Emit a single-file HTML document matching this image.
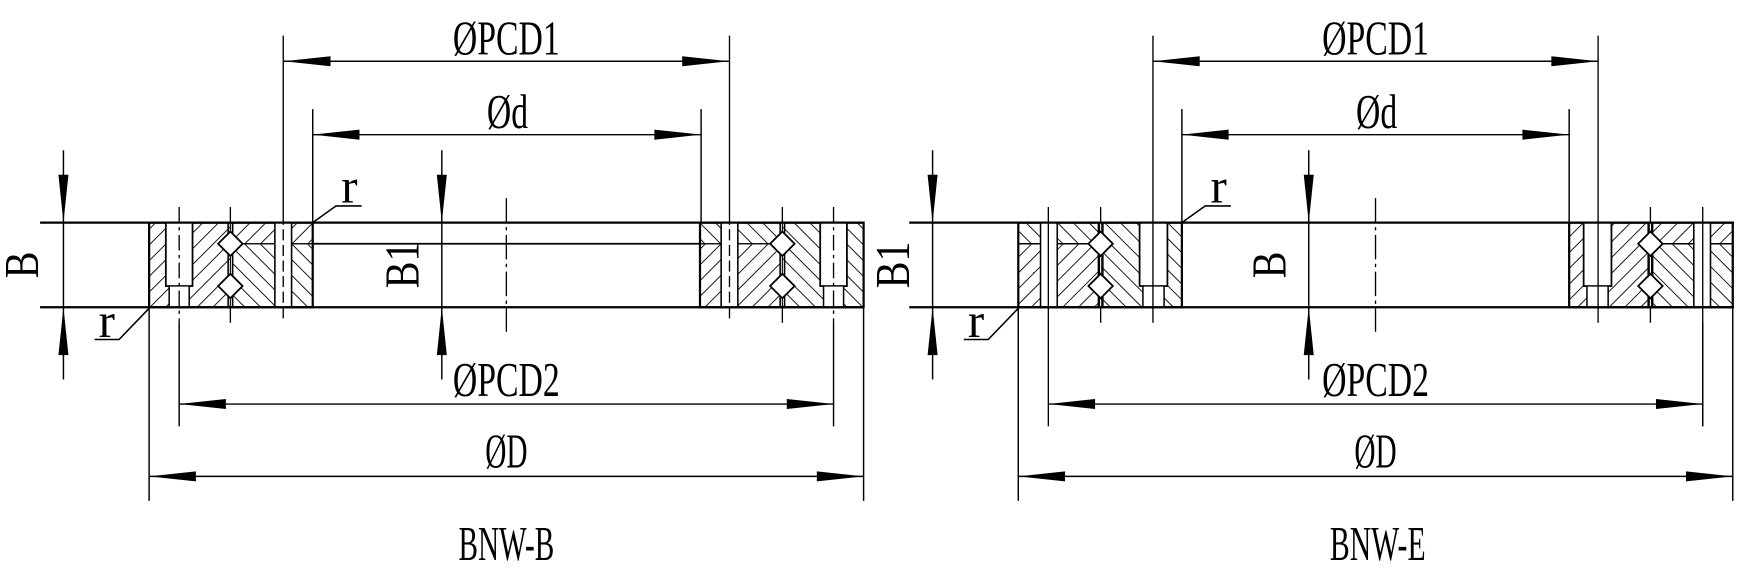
<!DOCTYPE html>
<html><head><meta charset="utf-8"><style>html,body{margin:0;padding:0;background:#fff}svg{display:block}</style></head>
<body>
<svg width="1745" height="571" viewBox="0 0 1568 513" preserveAspectRatio="none" xmlns="http://www.w3.org/2000/svg">
<defs>
<pattern id="hb" patternUnits="userSpaceOnUse" width="10" height="10" patternTransform="rotate(45)"><line x1="0" y1="0" x2="0" y2="10" stroke="#000" stroke-width="1.6"/></pattern>
<pattern id="hf" patternUnits="userSpaceOnUse" width="10" height="10" patternTransform="rotate(-45)"><line x1="0" y1="0" x2="0" y2="10" stroke="#000" stroke-width="1.6"/></pattern>
<g id="blockL">
  <rect x="134" y="200" width="73" height="76" fill="url(#hb)"/>
  <rect x="209" y="200" width="72" height="19" fill="url(#hb)"/>
  <rect x="209" y="219" width="72" height="57" fill="url(#hf)"/>
  <rect x="149" y="200" width="24" height="57" fill="#fff" stroke="#000" stroke-width="1.6"/>
  <rect x="152" y="257" width="18" height="19" fill="#fff"/>
  <line x1="152" y1="257" x2="152" y2="276" stroke="#000" stroke-width="1.3"/>
  <line x1="170" y1="257" x2="170" y2="276" stroke="#000" stroke-width="1.3"/>
  <line x1="161" y1="186" x2="161" y2="290" stroke="#000" stroke-width="1.2" stroke-dasharray="14,4,3,4"/>
  <rect x="247" y="200" width="15" height="76" fill="#fff" stroke="#000" stroke-width="1.4"/>
  <line x1="254.5" y1="32" x2="254.5" y2="290" stroke="#000" stroke-width="1.2" stroke-dasharray="170,4,10,4,10,4,10,4,10,4,10,4,10,4,100"/>
  <line x1="205" y1="200" x2="205" y2="276" stroke="#000" stroke-width="1.4"/>
  <line x1="209" y1="200" x2="209" y2="276" stroke="#000" stroke-width="1.4"/>
  <line x1="207" y1="186" x2="207" y2="200" stroke="#000" stroke-width="1.2"/>
  <line x1="207" y1="276" x2="207" y2="290" stroke="#000" stroke-width="1.2"/>
  <polygon points="207,208 218,219 207,230 196,219" fill="#fff" stroke="#000" stroke-width="1.6"/>
  <polygon points="207,246 218,257 207,268 196,257" fill="#fff" stroke="#000" stroke-width="1.6"/>
  <rect x="134" y="200" width="147" height="76" fill="none" stroke="#000" stroke-width="2"/>
</g>
<g id="blockR">
  <rect x="915" y="200" width="73" height="19" fill="url(#hf)"/>
  <rect x="915" y="219" width="73" height="57" fill="url(#hb)"/>
  <rect x="990" y="200" width="72" height="76" fill="url(#hf)"/>
  <line x1="915" y1="219" x2="988" y2="219" stroke="#000" stroke-width="1.4"/>
  <rect x="935" y="200" width="15" height="76" fill="#fff" stroke="#000" stroke-width="1.4"/>
  <line x1="942" y1="186" x2="942" y2="383" stroke="#000" stroke-width="1.2"/>
  <rect x="1024" y="200" width="25" height="57" fill="#fff" stroke="#000" stroke-width="1.6"/>
  <rect x="1027" y="257" width="19" height="19" fill="#fff"/>
  <line x1="1027" y1="257" x2="1027" y2="276" stroke="#000" stroke-width="1.3"/>
  <line x1="1046" y1="257" x2="1046" y2="276" stroke="#000" stroke-width="1.3"/>
  <line x1="1036" y1="32" x2="1036" y2="290" stroke="#000" stroke-width="1.2"/>
  <line x1="987" y1="200" x2="987" y2="276" stroke="#000" stroke-width="1.4"/>
  <line x1="991" y1="200" x2="991" y2="276" stroke="#000" stroke-width="1.4"/>
  <line x1="989" y1="186" x2="989" y2="200" stroke="#000" stroke-width="1.2"/>
  <line x1="989" y1="276" x2="989" y2="290" stroke="#000" stroke-width="1.2"/>
  <polygon points="989,208 1000,219 989,230 978,219" fill="#fff" stroke="#000" stroke-width="1.6"/>
  <polygon points="989,246 1000,257 989,268 978,257" fill="#fff" stroke="#000" stroke-width="1.6"/>
  <rect x="915" y="200" width="147" height="76" fill="none" stroke="#000" stroke-width="2"/>
</g>
</defs>

<g stroke="#000" fill="none">
<line x1="36" y1="200" x2="776" y2="200" stroke-width="2"/>
<line x1="36" y1="276" x2="776" y2="276" stroke-width="2"/>
<line x1="281" y1="219" x2="630" y2="219" stroke-width="1.6"/>
<use href="#blockL"/>
<use href="#blockL" transform="translate(910,0) scale(-1,1)"/>
<line x1="281" y1="98" x2="281" y2="200" stroke-width="1.3"/>
<line x1="630" y1="98" x2="630" y2="200" stroke-width="1.3"/>
<line x1="255" y1="55" x2="655" y2="55" stroke-width="1.3"/>
<line x1="281" y1="121" x2="630" y2="121" stroke-width="1.3"/>
<line x1="161" y1="290" x2="161" y2="383" stroke-width="1.3"/>
<line x1="749" y1="290" x2="749" y2="383" stroke-width="1.3"/>
<line x1="161" y1="363" x2="749" y2="363" stroke-width="1.3"/>
<line x1="134" y1="276" x2="134" y2="450" stroke-width="1.3"/>
<line x1="776" y1="276" x2="776" y2="450" stroke-width="1.3"/>
<line x1="134" y1="428" x2="776" y2="428" stroke-width="1.3"/>
<line x1="57" y1="135" x2="57" y2="341" stroke-width="1.3"/>
<line x1="397" y1="135" x2="397" y2="341" stroke-width="1.3"/>
<line x1="455" y1="178" x2="455" y2="298" stroke-width="1.2" stroke-dasharray="22,4,3,4"/>
<polyline points="85,305 107,305 134,277" stroke-width="1.4"/>
<polyline points="325,185 302,185 281,200" stroke-width="1.4"/>

<line x1="817" y1="200" x2="1558" y2="200" stroke-width="2"/>
<line x1="817" y1="276" x2="1558" y2="276" stroke-width="2"/>
<use href="#blockR"/>
<use href="#blockR" transform="translate(2472,0) scale(-1,1)"/>
<line x1="1062" y1="98" x2="1062" y2="200" stroke-width="1.3"/>
<line x1="1410" y1="98" x2="1410" y2="200" stroke-width="1.3"/>
<line x1="1036" y1="55" x2="1436" y2="55" stroke-width="1.3"/>
<line x1="1062" y1="121" x2="1410" y2="121" stroke-width="1.3"/>
<line x1="942" y1="363" x2="1530" y2="363" stroke-width="1.3"/>
<line x1="915" y1="276" x2="915" y2="450" stroke-width="1.3"/>
<line x1="1557" y1="276" x2="1557" y2="450" stroke-width="1.3"/>
<line x1="915" y1="428" x2="1557" y2="428" stroke-width="1.3"/>
<line x1="838" y1="135" x2="838" y2="341" stroke-width="1.3"/>
<line x1="1176" y1="135" x2="1176" y2="341" stroke-width="1.3"/>
<line x1="1236" y1="178" x2="1236" y2="298" stroke-width="1.2" stroke-dasharray="22,4,3,4"/>
<polyline points="866,305 888,305 915,277" stroke-width="1.4"/>
<polyline points="1106,185 1083,185 1062,200" stroke-width="1.4"/>
<line x1="1530" y1="290" x2="1530" y2="383" stroke-width="1.3"/>
</g>

<g fill="#000">
<polygon points="255,55 297,50.5 297,59.5"/><polygon points="655,55 613,50.5 613,59.5"/>
<polygon points="281,121 323,116.5 323,125.5"/><polygon points="630,121 588,116.5 588,125.5"/>
<polygon points="161,363 203,358.5 203,367.5"/><polygon points="749,363 707,358.5 707,367.5"/>
<polygon points="134,428 176,423.5 176,432.5"/><polygon points="776,428 734,423.5 734,432.5"/>
<polygon points="57,200 52.5,157 61.5,157"/><polygon points="57,276 52.5,319 61.5,319"/>
<polygon points="397,200 392.5,157 401.5,157"/><polygon points="397,276 392.5,319 401.5,319"/>
<polygon points="1036,55 1078,50.5 1078,59.5"/><polygon points="1436,55 1394,50.5 1394,59.5"/>
<polygon points="1062,121 1104,116.5 1104,125.5"/><polygon points="1410,121 1368,116.5 1368,125.5"/>
<polygon points="942,363 984,358.5 984,367.5"/><polygon points="1530,363 1488,358.5 1488,367.5"/>
<polygon points="915,428 957,423.5 957,432.5"/><polygon points="1557,428 1515,423.5 1515,432.5"/>
<polygon points="838,200 833.5,157 842.5,157"/><polygon points="838,276 833.5,319 842.5,319"/>
<polygon points="1176,200 1171.5,157 1180.5,157"/><polygon points="1176,276 1171.5,319 1180.5,319"/>
</g>

<g font-family="'Liberation Serif', serif" font-size="44" fill="#000" text-anchor="middle">
<text x="455" y="49" textLength="96" lengthAdjust="spacingAndGlyphs">ØPCD1</text>
<text x="456" y="115" textLength="37" lengthAdjust="spacingAndGlyphs">Ød</text>
<text x="455" y="356" textLength="96" lengthAdjust="spacingAndGlyphs">ØPCD2</text>
<text x="455" y="420" textLength="38" lengthAdjust="spacingAndGlyphs">ØD</text>
<text x="455" y="503" textLength="86" lengthAdjust="spacingAndGlyphs">BNW-B</text>
<text x="1236" y="49" textLength="96" lengthAdjust="spacingAndGlyphs">ØPCD1</text>
<text x="1237" y="115" textLength="37" lengthAdjust="spacingAndGlyphs">Ød</text>
<text x="1236" y="356" textLength="96" lengthAdjust="spacingAndGlyphs">ØPCD2</text>
<text x="1236" y="420" textLength="38" lengthAdjust="spacingAndGlyphs">ØD</text>
<text x="1238" y="503" textLength="86" lengthAdjust="spacingAndGlyphs">BNW-E</text>
<text x="96" y="303">r</text>
<text x="314" y="182">r</text>
<text x="877" y="303">r</text>
<text x="1095" y="182">r</text>
<text transform="translate(34,238) rotate(-90)" textLength="24" lengthAdjust="spacingAndGlyphs">B</text>
<text transform="translate(376,238) rotate(-90)" textLength="42" lengthAdjust="spacingAndGlyphs">B1</text>
<text transform="translate(817,238) rotate(-90)" textLength="42" lengthAdjust="spacingAndGlyphs">B1</text>
<text transform="translate(1155,238) rotate(-90)" textLength="24" lengthAdjust="spacingAndGlyphs">B</text>
</g>
</svg>
</body></html>
